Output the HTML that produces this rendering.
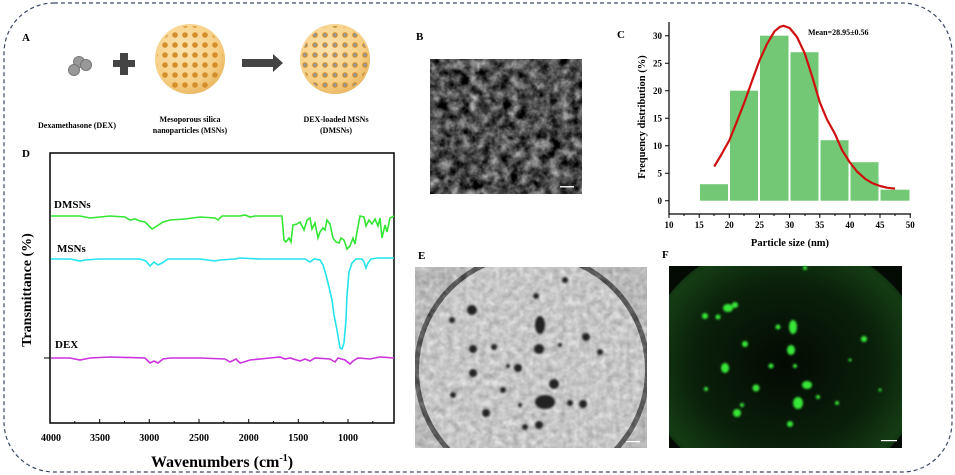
<!DOCTYPE html>
<html><head><meta charset="utf-8"><style>
html,body{margin:0;padding:0;background:#fff;}
svg{display:block;font-family:"Liberation Serif",serif;font-weight:bold;}
</style></head><body>
<svg width="955" height="475" viewBox="0 0 955 475" xmlns="http://www.w3.org/2000/svg">
<defs>
<radialGradient id="sph" cx="0.4" cy="0.35" r="0.7">
<stop offset="0" stop-color="#fbe3b0"/><stop offset="0.7" stop-color="#f6cf85"/><stop offset="1" stop-color="#e9b55e"/>
</radialGradient>
<pattern id="dots" width="10" height="10" patternUnits="userSpaceOnUse"><circle cx="5" cy="5" r="2.8" fill="#d48f2c"/></pattern>
<pattern id="dots2" width="10" height="10" patternUnits="userSpaceOnUse"><circle cx="5" cy="5" r="2.8" fill="#d48f2c"/><circle cx="5" cy="5" r="1.6" fill="#8f98a3"/></pattern>
<filter id="semn" x="0" y="0" width="100%" height="100%" color-interpolation-filters="sRGB"><feTurbulence type="fractalNoise" baseFrequency="0.1" numOctaves="3" seed="7" result="t"/>
<feColorMatrix in="t" type="matrix" values="0.8 0.8 0 0 -0.5  0.8 0.8 0 0 -0.5  0.8 0.8 0 0 -0.5  0 0 0 0 1"/></filter>
<filter id="en" x="0" y="0" width="100%" height="100%" color-interpolation-filters="sRGB"><feTurbulence type="fractalNoise" baseFrequency="0.15" numOctaves="2" seed="3" result="t"/>
<feColorMatrix in="t" type="matrix" values="0.6 0.6 0 0 0.1  0.6 0.6 0 0 0.1  0.6 0.6 0 0 0.1  0 0 0 0 1"/></filter>
<filter id="blur2"><feGaussianBlur stdDeviation="1"/></filter>
<radialGradient id="fg" cx="0.5" cy="0.5" r="0.6">
<stop offset="0" stop-color="#030a03"/><stop offset="0.55" stop-color="#0a200a"/><stop offset="0.8" stop-color="#143c14"/><stop offset="1" stop-color="#061006"/>
</radialGradient>
<clipPath id="cE"><rect x="415" y="267" width="232" height="181"/></clipPath>
<clipPath id="cF"><rect x="669" y="266" width="233" height="182"/></clipPath>
</defs>

<rect x="4" y="3" width="948" height="469" rx="50" ry="50" fill="none" stroke="#3a4a66" stroke-width="1.2" stroke-dasharray="4,3"/>

<!-- Panel A -->
<text x="22" y="41" font-size="11">A</text>
<circle cx="79" cy="62" r="5.5" fill="#999" stroke="#777"/>
<circle cx="86" cy="65" r="5.5" fill="#999" stroke="#777"/>
<circle cx="74" cy="70" r="5.5" fill="#999" stroke="#777"/>
<rect x="113" y="60" width="22" height="7" fill="#444"/>
<rect x="120" y="53" width="8" height="22" fill="#444"/>
<circle cx="190" cy="59" r="35" fill="url(#sph)"/>
<circle cx="190" cy="59" r="33" fill="url(#dots)"/>
<path d="M242,59 H273 V54 L283,63 L273,72 V67 H242 Z" fill="#444"/>
<circle cx="335" cy="59" r="35" fill="url(#sph)"/>
<circle cx="335" cy="59" r="33" fill="url(#dots2)"/>
<g font-size="8" text-anchor="middle">
<text x="77" y="128">Dexamethasone (DEX)</text>
<text x="190" y="122">Mesoporous silica</text>
<text x="190" y="133">nanoparticles (MSNs)</text>
<text x="336" y="122">DEX-loaded MSNs</text>
<text x="336" y="133">(DMSNs)</text>
</g>

<!-- Panel B -->
<text x="416" y="40" font-size="11">B</text>
<rect x="430" y="59" width="152" height="135" fill="#4a4a4a"/>
<rect x="430" y="59" width="152" height="135" filter="url(#semn)"/>
<rect x="560" y="186" width="14" height="1.5" fill="#eee"/>

<!-- Panel C -->
<text x="617" y="38" font-size="11">C</text>
<g fill="#72c874">
<rect x="700" y="184.2" width="28" height="16.5"/>
<rect x="730" y="90.7" width="28" height="110"/>
<rect x="760" y="35.7" width="28.5" height="165"/>
<rect x="790.5" y="52.2" width="28" height="148.5"/>
<rect x="820.5" y="140.2" width="28" height="60.5"/>
<rect x="850.5" y="162.2" width="28" height="38.5"/>
<rect x="880.5" y="189.7" width="29" height="11"/>
</g>
<path d="M714.2,166.6 L721.7,154 L729.3,140.4 L736.8,121.8 L744.4,102.3 L752,81 L759.5,60.4 L767,44 L774.5,31.3 L780,26.8 L783.6,25.8 L789.6,28 L797,37 L804.7,53.3 L812,76 L819.8,102.3 L827,119.5 L834.8,133.6 L842,150 L849.9,162.5 L857,171.5 L865,178.7 L872,183 L880,186 L887,187.7 L895,188.6" fill="none" stroke="#d01010" stroke-width="2.2" stroke-linejoin="round"/>
<path d="M669,22 V214 H911" stroke="#000" stroke-width="1.2" fill="none"/>
<g stroke="#000" stroke-width="1">
<path d="M669,200.7 h-4 M669,173.2 h-4 M669,145.7 h-4 M669,118.2 h-4 M669,90.7 h-4 M669,63.2 h-4 M669,35.7 h-4"/>
<path d="M669,214 v4 M699.2,214 v4 M729.3,214 v4 M759.5,214 v4 M789.6,214 v4 M819.8,214 v4 M849.9,214 v4 M880,214 v4 M910.2,214 v4"/>
<path d="M684,214 v2 M714,214 v2 M744,214 v2 M774,214 v2 M805,214 v2 M835,214 v2 M865,214 v2 M895,214 v2"/>
</g>
<g font-size="9" text-anchor="end">
<text x="662" y="204">0</text><text x="662" y="176.5">5</text><text x="662" y="149">10</text><text x="662" y="121.5">15</text><text x="662" y="94">20</text><text x="662" y="66.5">25</text><text x="662" y="39">30</text>
</g>
<g font-size="9" text-anchor="middle">
<text x="669" y="228">10</text><text x="699.2" y="228">15</text><text x="729.3" y="228">20</text><text x="759.5" y="228">25</text><text x="789.6" y="228">30</text><text x="819.8" y="228">35</text><text x="849.9" y="228">40</text><text x="880" y="228">45</text><text x="910.2" y="228">50</text>
</g>
<text x="790" y="246" font-size="10.5" text-anchor="middle">Particle size (nm)</text>
<text transform="translate(645,117) rotate(-90)" font-size="10.5" text-anchor="middle">Frequency distribution (%)</text>
<text x="808" y="35" font-size="8">Mean=28.95±0.56</text>

<!-- Panel D -->
<text x="22" y="157" font-size="11">D</text>
<rect x="50" y="153" width="344" height="270" fill="none" stroke="#000" stroke-width="1.5"/>
<g stroke="#000" stroke-width="1">
<path d="M50,423 v-4 M99.7,423 v-4 M149.3,423 v-4 M199,423 v-4 M248.7,423 v-4 M298.3,423 v-4 M348,423 v-4"/>
<path d="M74.8,423 v-2 M124.5,423 v-2 M174.2,423 v-2 M223.8,423 v-2 M273.5,423 v-2 M323.2,423 v-2 M372.8,423 v-2"/>
<path d="M44,358 h6"/>
</g>
<g font-size="10" text-anchor="middle">
<text x="51" y="441">4000</text><text x="100" y="441">3500</text><text x="149.3" y="441">3000</text><text x="199" y="441">2500</text><text x="248.7" y="441">2000</text><text x="298.3" y="441">1500</text><text x="348" y="441">1000</text>
</g>
<text x="222" y="467" font-size="16" text-anchor="middle">Wavenumbers (cm<tspan font-size="10" dy="-6">-1</tspan><tspan dy="6">)</tspan></text>
<text transform="translate(31,290) rotate(-90)" font-size="14" text-anchor="middle">Transmittance (%)</text>
<text x="54" y="208" font-size="11">DMSNs</text>
<text x="57" y="252" font-size="11">MSNs</text>
<text x="55" y="348" font-size="11">DEX</text>
<polyline fill="none" stroke="#33e633" stroke-width="1.6" points="51,216 80,216 90,218 110,216 125,217 130,220 135,219 140,221 145,222 152,229 157,226 163,222 170,220 185,219 200,217 215,218 218,220 222,216 240,216 245,215 250,217 255,216 282,216 284,240 286,242 289,238 291,242 293,225 297,224 300,222 304,230 307,220 310,218 312,229 315,223 318,238 320,232 323,228 325,230 327,220 330,224 333,238 336,242 339,243 341,238 344,240 347,249 350,246 353,238 355,244 357,232 360,216 364,217 366,226 369,220 372,224 375,219 378,226 380,218 382,238 385,225 387,232 390,218 394,216"/>
<polyline fill="none" stroke="#22e3ee" stroke-width="1.6" points="51,259 70,259 80,261 85,260 100,259 140,259 146,261 150,266 154,262 158,265 162,263 168,259 200,259 215,261 220,260 235,259 240,258 260,259 305,259 310,262 314,259 320,260 323,265 326,275 329,287 332,300 334,315 337,330 339,342 340,348 342,349 344,343 346,320 347,295 349,272 352,263 356,259 362,259 364,262 366,268 368,263 371,259 378,258 394,258"/>
<polyline fill="none" stroke="#cc33dd" stroke-width="1.6" points="51,358 70,358 80,360 90,358 110,357 145,358 150,363 154,361 158,363 163,359 170,358 200,358 225,359 230,362 236,359 240,363 244,362 250,360 270,358 280,357 285,359 290,358 300,361 305,359 310,361 315,358 330,359 335,362 338,358 345,360 350,364 353,361 358,358 370,359 380,357 394,358"/>

<!-- Panel E -->
<text x="418" y="259" font-size="11">E</text>
<g clip-path="url(#cE)">
<rect x="415" y="267" width="232" height="181" fill="#bdbdbd"/>
<circle cx="532" cy="370" r="118" fill="#2a2a2a"/>
<circle cx="532" cy="370" r="113" fill="#d2d2d2"/>
<rect x="415" y="267" width="232" height="181" filter="url(#en)" opacity="0.35"/>
<g fill="#222" filter="url(#blur2)">
<circle cx="473" cy="349" r="4"/><circle cx="472" cy="310" r="5"/><circle cx="452" cy="320" r="3"/><circle cx="536" cy="296" r="3"/>
<ellipse cx="540" cy="325" rx="5" ry="9"/><circle cx="539" cy="349" r="5"/><circle cx="494" cy="347" r="3"/><circle cx="518" cy="368" r="4"/>
<circle cx="554" cy="384" r="5"/><ellipse cx="545" cy="402" rx="10" ry="7"/><circle cx="503" cy="390" r="3"/><circle cx="486" cy="413" r="4"/>
<circle cx="473" cy="373" r="4"/><circle cx="586" cy="337" r="4"/><circle cx="583" cy="404" r="4"/><circle cx="570" cy="403" r="3"/>
<circle cx="539" cy="425" r="4"/><circle cx="525" cy="427" r="3"/><circle cx="508" cy="366" r="2"/><circle cx="600" cy="352" r="3"/>
<circle cx="453" cy="395" r="3"/><circle cx="565" cy="280" r="3"/><circle cx="560" cy="345" r="2"/><circle cx="520" cy="405" r="2"/>
</g>
</g>
<rect x="626" y="441" width="14" height="1.2" fill="#fff"/>

<!-- Panel F -->
<text x="662" y="258" font-size="11">F</text>
<rect x="669" y="266" width="233" height="182" fill="#040a04"/>
<ellipse cx="785" cy="365" rx="140" ry="125" fill="url(#fg)" clip-path="url(#cF)"/>
<g fill="#39e639" filter="url(#blur2)">
<ellipse cx="728" cy="308" rx="5" ry="4"/><ellipse cx="735" cy="305" rx="3" ry="3"/><circle cx="705" cy="316" r="3"/><circle cx="718" cy="317" r="2.5"/>
<ellipse cx="793" cy="327" rx="4" ry="7"/><circle cx="778" cy="327" r="2.5"/><ellipse cx="791" cy="350" rx="4" ry="5"/><circle cx="745" cy="344" r="3"/>
<ellipse cx="725" cy="368" rx="4" ry="5"/><circle cx="771" cy="366" r="2.5"/><circle cx="795" cy="366" r="2"/><circle cx="756" cy="388" r="3.5"/>
<ellipse cx="807" cy="385" rx="5" ry="4"/><ellipse cx="798" cy="403" rx="5" ry="6"/><circle cx="818" cy="397" r="2"/><circle cx="737" cy="413" r="4"/>
<circle cx="742" cy="405" r="2"/><circle cx="790" cy="424" r="3"/><circle cx="864" cy="339" r="3"/><circle cx="837" cy="403" r="2"/>
<circle cx="706" cy="389" r="2"/><circle cx="805" cy="268" r="2"/><circle cx="880" cy="390" r="1.5"/><circle cx="850" cy="360" r="1.5"/>
</g>
<rect x="881" y="440" width="16" height="1.2" fill="#fff"/>
</svg>
</body></html>
